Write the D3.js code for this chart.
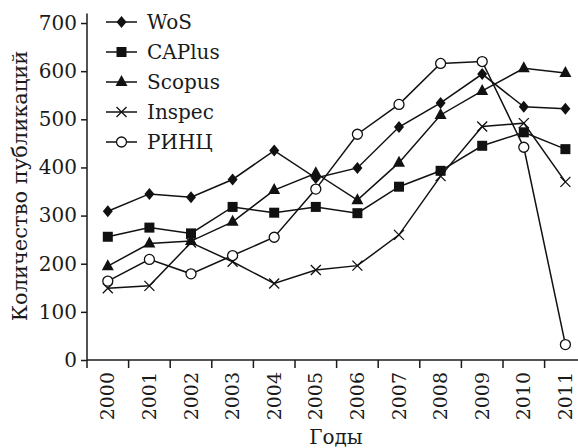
<!DOCTYPE html>
<html><head><meta charset="utf-8">
<script src="https://cdn.jsdelivr.net/npm/d3@7/dist/d3.min.js"></script>
<style>
body{margin:0;background:#fff;}
text{font-family:"DejaVu Serif",serif;fill:#1a1a1a;}
</style></head>
<body><svg id="c" width="578" height="448"></svg>
<script>
const years = ["2000","2001","2002","2003","2004","2005","2006","2007","2008","2009","2010","2011"];
const wos    = [309,345,338,375,435,378,399,484,534,594,526,522];
const caplus = [256,275,263,318,306,318,305,360,393,445,473,438];
const scopus = [195,242,247,287,353,388,332,410,509,559,606,596];
const inspec = [149,154,244,204,159,187,196,260,382,485,492,370];
const rinc   = [164,209,179,217,255,355,469,531,616,620,442,32];
const seriesNames = ["WoS","CAPlus","Scopus","Inspec","РИНЦ"];
const yTicks = [0,100,200,300,400,500,600,700];
const yTitle = "Количество публикаций";
const xTitle = "Годы";

const series = [
  {name:seriesNames[0], vals:wos, m:"diamond"},
  {name:seriesNames[1], vals:caplus, m:"square"},
  {name:seriesNames[2], vals:scopus, m:"triangle"},
  {name:seriesNames[3], vals:inspec, m:"cross"},
  {name:seriesNames[4], vals:rinc, m:"circle"}
];

const svg = d3.select("#c");
const x0 = 87, y0 = 360;
const x = d3.scaleBand().domain(years).range([x0, x0 + 12*41.6]).padding(0);
const y = d3.scaleLinear().domain([0,720]).range([y0, 13.4]);
const cx = d => x(d) + x.bandwidth()/2;

// y axis
const ya = svg.append("g").attr("transform",`translate(${x0},0)`)
  .call(d3.axisLeft(y).tickValues(yTicks).tickSize(6).tickPadding(4).tickFormat(d3.format("d")));
ya.select(".domain").attr("stroke","#1a1a1a").attr("stroke-width",1.5).attr("d",`M0,${y(720)}V${y0}`);
ya.selectAll(".tick line").attr("stroke","#1a1a1a").attr("stroke-width",1.5);
ya.selectAll(".tick text").attr("font-size",20).attr("font-family","DejaVu Serif").attr("fill","#1a1a1a");

// x axis
const xa = svg.append("g").attr("transform",`translate(0,${y0})`)
  .call(d3.axisBottom(x).tickSize(0).tickPadding(0));
xa.select(".domain").attr("stroke","#1a1a1a").attr("stroke-width",1.5).attr("d",`M${x0},0H578`);
xa.selectAll(".tick text").attr("font-size",19).attr("font-family","DejaVu Serif").attr("fill","#1a1a1a")
  .attr("transform","translate(0,12) rotate(-90)").attr("text-anchor","end").attr("dy","0.35em").attr("y",0).attr("x",0);
svg.append("g").selectAll("line").data(years).join("line")
  .attr("x1",d=>x(d)).attr("x2",d=>x(d)).attr("y1",y0).attr("y2",y0+8)
  .attr("stroke","#1a1a1a").attr("stroke-width",1.5);

// titles
svg.append("text").attr("transform",`translate(27,${(47+325)/2}) rotate(-90)`)
  .attr("text-anchor","middle").attr("font-size",21).text(yTitle);
svg.append("text").attr("x",336).attr("y",444).attr("text-anchor","middle").attr("font-size",20).text(xTitle);

function marker(g, type){
  if(type==="diamond") g.append("path").attr("d","M0,-6L5,0L0,6L-5,0Z").attr("fill","#111");
  else if(type==="square") g.append("rect").attr("x",-5).attr("y",-5).attr("width",10).attr("height",10).attr("fill","#111");
  else if(type==="triangle") g.append("path").attr("d","M0,-7L6,4L-6,4Z").attr("fill","#111");
  else if(type==="cross") g.append("path").attr("d","M-5,-5L5,5M-5,5L5,-5").attr("stroke","#111").attr("stroke-width",1.3).attr("fill","none");
  else if(type==="circle") g.append("circle").attr("r",5).attr("fill","#fff").attr("stroke","#111").attr("stroke-width",1.3);
}

const line = d3.line().x((d,i)=>cx(years[i])).y(d=>y(d));
series.forEach(s=>{
  svg.append("path").datum(s.vals).attr("d",line).attr("fill","none").attr("stroke","#111").attr("stroke-width",1.5);
});
series.forEach(s=>{
  s.vals.forEach((v,i)=>{
    const g = svg.append("g").attr("transform",`translate(${cx(years[i])},${y(v)})`);
    marker(g, s.m);
  });
});

// legend
series.forEach((s,i)=>{
  const ly = 22 + i*30;
  const g = svg.append("g").attr("transform",`translate(0,${ly})`);
  g.append("line").attr("x1",106).attr("x2",137).attr("y1",0).attr("y2",0).attr("stroke","#111").attr("stroke-width",1.5);
  const mg = g.append("g").attr("transform","translate(121.5,0)");
  marker(mg, s.m);
  g.append("text").attr("x",147).attr("y",0).attr("dy","0.35em").attr("font-size",20).text(s.name);
});
</script></body></html>
